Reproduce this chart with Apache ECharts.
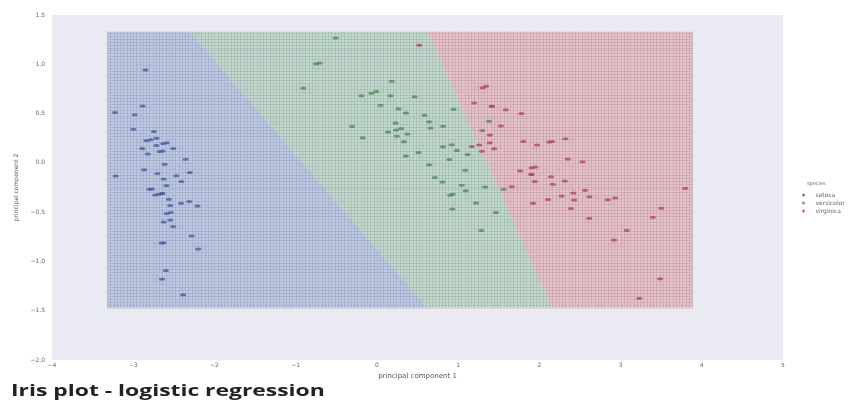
<!DOCTYPE html>
<html>
<head>
<meta charset="utf-8">
<script src="https://cdn.jsdelivr.net/npm/echarts@6/dist/echarts.min.js"></script>
<style>
html,body{margin:0;padding:0;background:#fff;}
#main{width:853px;height:400px;}
</style>
</head>
<body>
<div id="main"></div>
<script>
// Iris PCA projection (principal component 1, principal component 2)
const setosa = [
[-2.684,-0.319],[-2.714,0.177],[-2.889,0.145],[-2.745,0.318],[-2.729,-0.327],
[-2.281,-0.741],[-2.821,0.089],[-2.626,-0.163],[-2.886,0.578],[-2.673,0.114],
[-2.507,-0.645],[-2.613,-0.015],[-2.786,0.235],[-3.224,0.511],[-2.645,-1.179],
[-2.386,-1.338],[-2.624,-0.811],[-2.648,-0.312],[-2.200,-0.873],[-2.588,-0.514],
[-2.310,-0.391],[-2.544,-0.433],[-3.216,-0.133],[-2.303,-0.099],[-2.356,0.037],
[-2.507,0.146],[-2.469,-0.131],[-2.562,-0.368],[-2.640,-0.312],[-2.632,0.197],
[-2.587,0.204],[-2.410,-0.411],[-2.649,-0.813],[-2.599,-1.093],[-2.637,0.121],
[-2.866,-0.069],[-2.625,-0.599],[-2.801,-0.269],[-2.981,0.488],[-2.590,-0.229],
[-2.770,-0.264],[-2.849,0.941],[-2.997,0.342],[-2.406,-0.189],[-2.209,-0.437],
[-2.714,0.250],[-2.538,-0.504],[-2.839,0.228],[-2.543,-0.579],[-2.703,-0.108]
];
const versicolor = [
[1.285,-0.685],[0.932,-0.318],[1.464,-0.504],[0.183,0.828],[1.088,-0.075],
[0.642,0.418],[1.095,-0.283],[-0.749,1.005],[1.044,-0.228],[-0.009,0.723],
[-0.508,1.266],[0.512,0.104],[0.265,0.550],[0.985,0.125],[-0.174,0.255],
[0.928,-0.467],[0.660,0.353],[0.236,0.334],[0.945,0.543],[0.045,0.584],
[1.116,0.085],[0.358,0.069],[1.298,0.328],[0.922,0.183],[0.715,-0.149],
[0.900,-0.329],[1.332,-0.244],[1.558,-0.267],[0.813,0.163],[-0.306,0.368],
[-0.068,0.705],[-0.190,0.680],[0.136,0.314],[1.380,0.421],[0.588,0.484],
[0.807,-0.194],[1.221,-0.408],[0.815,0.372],[0.246,0.269],[0.166,0.682],
[0.465,0.671],[0.891,0.034],[0.231,0.404],[-0.705,1.012],[0.357,0.505],
[0.332,0.213],[0.376,0.293],[0.643,-0.018],[-0.906,0.756],[0.299,0.349]
];
const virginica = [
[2.531,0.010],[1.415,0.575],[2.617,-0.344],[1.971,0.180],[2.350,0.040],
[3.397,-0.551],[0.521,1.193],[2.933,-0.356],[2.321,0.244],[2.918,-0.783],
[1.662,-0.242],[1.803,0.216],[2.166,-0.216],[1.344,0.777],[1.586,0.540],
[1.904,-0.119],[1.950,-0.042],[3.487,-1.176],[3.796,-0.257],[1.301,0.761],
[2.428,-0.378],[1.199,0.606],[3.500,-0.461],[1.389,0.204],[2.275,-0.335],
[2.614,-0.561],[1.259,0.180],[1.291,0.117],[2.124,0.211],[2.388,-0.463],
[2.842,-0.375],[3.231,-1.374],[2.159,0.217],[1.443,0.144],[1.780,0.501],
[3.077,-0.686],[2.144,-0.140],[1.905,-0.049],[1.169,0.165],[2.108,-0.372],
[2.314,-0.184],[1.922,-0.409],[1.415,0.575],[2.563,-0.278],[2.419,-0.305],
[1.944,-0.188],[1.527,0.375],[1.764,-0.079],[1.901,-0.117],[1.390,0.283]
];
const speciesNames = ['setosa','versicolor','virginica'];
// decision region extent and boundary lines
const meshX = [-3.32, 3.89];
const meshY = [-1.47, 1.33];
const boundarySetosaVersicolor = [[-2.30, 1.33],[0.62, -1.47]];
const boundaryVersicolorVirginica = [[0.63, 1.33],[2.16, -1.47]];
const meshStep = [0.04, 0.03];

const pointColors = ['#4a5f9c','#4f8a5e','#b24a58'];
const regionColors = ['#bdc8e3','#c0d9cb','#e7c0c8'];

const chart = echarts.init(document.getElementById('main'), null, {renderer:'canvas'});

const option = {
  animation:false,
  backgroundColor:'#ffffff',
  grid:{left:52, top:15, width:731, height:345, show:true, backgroundColor:'#eaeaf2', borderWidth:0},
  xAxis:{
    type:'value', min:-4, max:5, interval:1,
    name:'principal component 1', nameLocation:'middle', nameGap:7,
    nameTextStyle:{fontFamily:'DejaVu Sans', fontSize:7, color:'#555'},
    axisLine:{show:false}, axisTick:{show:false}, splitLine:{show:false},
    axisLabel:{fontFamily:'DejaVu Sans', fontSize:6, color:'#666', margin:2,
      formatter:v=>(v<0?'\u2212':'')+Math.abs(v)}
  },
  yAxis:{
    type:'value', min:-2, max:1.5, interval:0.5,
    name:'principal component 2', nameLocation:'middle', nameGap:32,
    nameTextStyle:{fontFamily:'DejaVu Sans', fontSize:6, color:'#555'},
    axisLine:{show:false}, axisTick:{show:false}, splitLine:{show:false},
    axisLabel:{fontFamily:'DejaVu Sans', fontSize:6, color:'#666', margin:7,
      formatter:v=>(v<0?'\u2212':'')+Math.abs(v).toFixed(1)}
  },
  legend:{
    orient:'vertical', left:797, top:187, itemWidth:6, itemHeight:3, itemGap:2,
    icon:'circle',
    textStyle:{fontFamily:'DejaVu Sans', fontSize:6, color:'#666', padding:[0,0,0,4]},
    data:speciesNames
  },
  graphic:[
    {type:'text', left:807, top:181, style:{text:'species', font:'5px DejaVu Sans', fill:'#666'}},
    {type:'text', x:11, y:383, scaleX:1.43, scaleY:1.05, style:{text:'Iris plot - logistic regression', font:'bold 16px "Open Sans"', fill:'#222'}}
  ],
  series:[
    {
      type:'custom', silent:true, z:1,
      data:[[0,0]],
      renderItem:function(params, api){
        const bx = boundarySetosaVersicolor, gx = boundaryVersicolorVirginica;
        const top = meshY[1], bot = meshY[0];
        const polys = [
          [[meshX[0],top],[bx[0][0],top],[bx[1][0],bot],[meshX[0],bot]],
          [[bx[0][0],top],[gx[0][0],top],[gx[1][0],bot],[bx[1][0],bot]],
          [[gx[0][0],top],[meshX[1],top],[meshX[1],bot],[gx[1][0],bot]]
        ];
        const children = polys.map((p,i)=>({
          type:'polygon', shape:{points:p.map(q=>api.coord(q))},
          style:{fill:regionColors[i], stroke:null}
        }));
        const p0 = api.coord([meshX[0], top]);
        const p1 = api.coord([meshX[1], bot]);
        for(let x=meshX[0]; x<=meshX[1]+1e-9; x+=meshStep[0]){
          const px = Math.round(api.coord([x,0])[0])+0.5;
          children.push({type:'line', shape:{x1:px,y1:p0[1],x2:px,y2:p1[1]},
            style:{stroke:'rgba(70,70,100,0.14)', lineWidth:1}});
        }
        for(let y=bot; y<=top+1e-9; y+=meshStep[1]){
          const py = Math.round(api.coord([0,y])[1])+0.5;
          children.push({type:'line', shape:{x1:p0[0],y1:py,x2:p1[0],y2:py},
            style:{stroke:'rgba(70,70,100,0.12)', lineWidth:1}});
        }
        return {type:'group', children:children};
      }
    },
    {name:'setosa', type:'scatter', data:setosa, symbol:'circle', symbolSize:[6,3], itemStyle:{color:pointColors[0]}, z:3},
    {name:'versicolor', type:'scatter', data:versicolor, symbol:'circle', symbolSize:[6,3], itemStyle:{color:pointColors[1]}, z:3},
    {name:'virginica', type:'scatter', data:virginica, symbol:'circle', symbolSize:[6,3], itemStyle:{color:pointColors[2]}, z:3}
  ]
};
chart.setOption(option);
</script>
</body>
</html>
